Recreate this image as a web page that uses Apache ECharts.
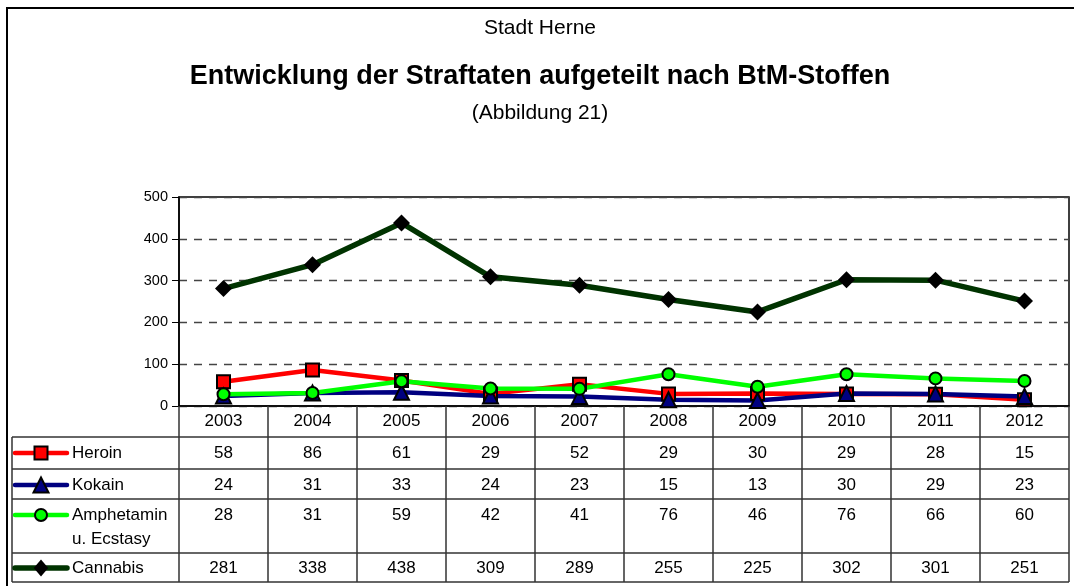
<!DOCTYPE html>
<html>
<head>
<meta charset="utf-8">
<style>
  html, body { margin: 0; padding: 0; background: #fff; }
  #chart { width: 1074px; height: 586px; }
</style>
<script src="https://cdn.jsdelivr.net/npm/echarts@6/dist/echarts.min.js"></script>
</head>
<body>
<div id="chart"></div>
<script>
// Daten
const years = ['2003', '2004', '2005', '2006', '2007', '2008', '2009', '2010', '2011', '2012']
const heroin = [58, 86, 61, 29, 52, 29, 30, 29, 28, 15]
const kokain = [24, 31, 33, 24, 23, 15, 13, 30, 29, 23]
const amphetamin = [28, 31, 59, 42, 41, 76, 46, 76, 66, 60]
const cannabis = [281, 338, 438, 309, 289, 255, 225, 302, 301, 251]
const seriesNames = ['Heroin', 'Kokain', 'Amphetamin u. Ecstasy', 'Cannabis']
const tableLabels = ['Heroin', 'Kokain', 'Amphetamin\nu. Ecstasy', 'Cannabis']
const yMin = 0
const yMax = 500
const yStep = 100

const fontFam = '"Liberation Sans", Arial, sans-serif'
const seriesStyle = [
  {color: '#ff0000', symbol: 'rect', size: 13, width: 4.5},
  {color: '#000080', symbol: 'triangle', size: 15, width: 4.5},
  {color: '#00ff00', symbol: 'circle', size: 12, width: 4.5},
  {color: '#003300', symbol: 'diamond', size: 17, width: 5.5, fill: '#000'}
]
const allValues = [heroin, kokain, amphetamin, cannabis]

// Layout (Tabelle unter dem Diagramm)
const gridLeft = 179
const gridRight = 5
const gridTop = 197
const gridBottom = 180
const tableLeft = 12
const rowLines = [437, 469, 499, 553, 582]
const rowText = [453, 485, 515, 568]

const chartEl = document.getElementById('chart')
const chart = echarts.init(chartEl, null, {renderer: 'canvas'})

const option = {
  animation: false,
  backgroundColor: '#fff',
  grid: {
    left: gridLeft,
    right: gridRight,
    top: gridTop,
    bottom: gridBottom,
    show: true,
    borderColor: '#000',
    borderWidth: 1.5
  },
  xAxis: {
    type: 'category',
    data: years,
    boundaryGap: true,
    axisLine: {show: true, lineStyle: {color: '#000', width: 1.5}},
    axisTick: {show: true, interval: 0, length: rowLines[rowLines.length - 1] - (586 - gridBottom), lineStyle: {color: '#333', width: 1.5}},
    axisLabel: {
      interval: 0,
      margin: 7,
      fontSize: 17,
      lineHeight: 17,
      color: '#000',
      fontFamily: fontFam
    },
    splitLine: {show: false}
  },
  yAxis: {
    type: 'value',
    min: yMin,
    max: yMax,
    interval: yStep,
    axisLine: {show: true, lineStyle: {color: '#000', width: 1.5}},
    axisTick: {show: true, length: 7, lineStyle: {color: '#000'}},
    axisLabel: {margin: 11, fontSize: 14.5, color: '#000', fontFamily: fontFam},
    splitLine: {
      show: true,
      lineStyle: {color: '#444', width: 1.3, type: [8, 7]}
    }
  },
  series: allValues.map((vals, i) => ({
    name: seriesNames[i],
    type: 'line',
    data: vals,
    symbol: seriesStyle[i].symbol,
    symbolSize: seriesStyle[i].size,
    lineStyle: {color: seriesStyle[i].color, width: seriesStyle[i].width},
    itemStyle: {
      color: seriesStyle[i].fill || seriesStyle[i].color,
      borderColor: '#000',
      borderWidth: seriesStyle[i].fill ? 0 : 2
    }
  }))
}
chart.setOption(option)

// Titel, Rahmen und Datentabelle
const buildGraphic = () => {
  const els = []
  const rightX = chart.getWidth() - gridRight
  els.push({
    type: 'rect', silent: true,
    shape: {x: 7, y: 8, width: 1090, height: 600},
    style: {fill: null, stroke: '#000', lineWidth: 2}
  })
  const titles = [
    {text: 'Stadt Herne', y: 28, size: 21, weight: 'normal'},
    {text: 'Entwicklung der Straftaten aufgeteilt nach BtM-Stoffen', y: 77, size: 27, weight: 'bold'},
    {text: '(Abbildung 21)', y: 113, size: 21, weight: 'normal'}
  ]
  titles.forEach((t) => {
    els.push({
      type: 'text', silent: true, x: 540, y: t.y,
      style: {text: t.text, fontSize: t.size, fontWeight: t.weight, fontFamily: fontFam, fill: '#000', align: 'center', verticalAlign: 'middle'}
    })
  })
  // horizontale Tabellenlinien
  rowLines.forEach((y) => {
    els.push({type: 'line', silent: true, shape: {x1: tableLeft, y1: y, x2: rightX, y2: y}, style: {stroke: '#333', lineWidth: 1.5}})
  })
  els.push({type: 'line', silent: true, shape: {x1: tableLeft, y1: rowLines[0], x2: tableLeft, y2: rowLines[rowLines.length - 1]}, style: {stroke: '#333', lineWidth: 1.5}})

  allValues.forEach((vals, i) => {
    const cy = rowText[i]
    const st = seriesStyle[i]
    // Legendensymbol
    els.push({type: 'line', silent: true, shape: {x1: 15, y1: cy, x2: 67, y2: cy}, style: {stroke: st.color, lineWidth: st.width, lineCap: 'round'}})
    const cx = 41
    const h = st.size / 2
    let sym
    if (st.symbol === 'rect') {
      sym = {type: 'rect', shape: {x: cx - h, y: cy - h, width: st.size, height: st.size}}
    } else if (st.symbol === 'triangle') {
      sym = {type: 'polygon', shape: {points: [[cx, cy - h], [cx + h, cy + h], [cx - h, cy + h]]}}
    } else if (st.symbol === 'circle') {
      sym = {type: 'circle', shape: {cx: cx, cy: cy, r: h}}
    } else {
      sym = {type: 'polygon', shape: {points: [[cx, cy - h], [cx + h * 0.85, cy], [cx, cy + h], [cx - h * 0.85, cy]]}}
    }
    sym.silent = true
    sym.style = {fill: st.fill || st.color, stroke: st.fill ? null : '#000', lineWidth: 2}
    els.push(sym)
    els.push({
      type: 'text', silent: true, x: 72, y: cy - 12,
      style: {text: tableLabels[i], fontSize: 17, lineHeight: 24, fontFamily: fontFam, fill: '#000', align: 'left', verticalAlign: 'top'}
    })
    // Werte
    vals.forEach((v, j) => {
      const px = chart.convertToPixel({xAxisIndex: 0}, j)
      els.push({
        type: 'text', silent: true, x: px, y: cy,
        style: {text: String(v), fontSize: 17, fontFamily: fontFam, fill: '#000', align: 'center', verticalAlign: 'middle'}
      })
    })
  })
  return els
}
chart.setOption({graphic: {elements: buildGraphic()}})
</script>
</body>
</html>
